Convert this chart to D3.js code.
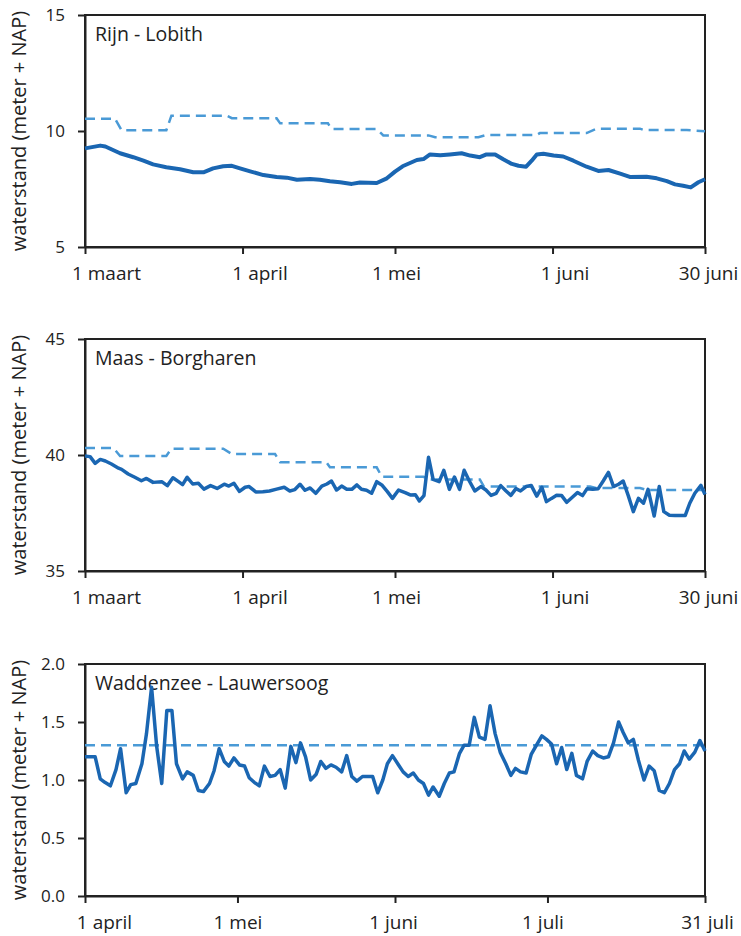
<!DOCTYPE html>
<html><head><meta charset="utf-8">
<script src="https://cdn.jsdelivr.net/npm/d3@7"></script>
<style>
body{margin:0;background:#fff;}
text{font-family:"Open Sans",Roboto,sans-serif;fill:#222;}
</style></head>
<body><svg id="c" width="741" height="936"></svg>
<script>
// ---------- DATA ----------
const panelTitles = ["Rijn - Lobith","Maas - Borgharen","Waddenzee - Lauwersoog"];
const yLabel = "waterstand (meter + NAP)";

const xTicks1 = [0,31,61,92,122];
const xTickLabels1 = ["1 maart","1 april","1 mei","1 juni","30 juni"];
const xTicks3 = [0,30,61,91,122];
const xTickLabels3 = ["1 april","1 mei","1 juni","1 juli","31 juli"];

const yDomainRijn = [5,15];  const yTicksRijn = [5,10,15];
const yDomainMaas = [35,45]; const yTicksMaas = [35,40,45];
const yDomainWad = [0,2];    const yTicksWad = [0,0.5,1,1.5,2];

// Rijn - Lobith (day index from 1 maart)
const rijnDays = [0,3,4,6.9,9.5,11.5,13.4,16,18.7,21.3,23.3,25.2,27.2,28.9,30.5,32.5,35.1,37.7,39.7,41.7,44.3,46.2,48.2,50.2,52.5,54.1,57.4,59.4,61,62.5,65.3,66.6,67.9,69.9,71.8,74.1,75.8,77.7,79,80.7,82.3,84,85.3,86.8,87.9,88.9,90.2,92.2,94.1,96.1,98.7,101,103,105.3,107.2,110.5,112.5,114.5,116.1,117.7,119.2,120.7,122];
const rijnLevel = [9.25,9.37,9.33,9.04,8.87,8.72,8.56,8.44,8.35,8.22,8.22,8.39,8.48,8.50,8.39,8.26,8.10,8.02,7.99,7.90,7.93,7.90,7.83,7.79,7.72,7.78,7.76,7.96,8.25,8.48,8.75,8.79,8.99,8.95,8.99,9.04,8.94,8.87,8.99,8.99,8.78,8.58,8.50,8.46,8.72,8.99,9.02,8.94,8.90,8.72,8.46,8.28,8.32,8.16,8.02,8.03,7.96,7.84,7.70,7.64,7.57,7.79,7.92];
const rijnNormDays = [0,5.9,7.2,16,17,27.9,28.9,37.7,38.4,47.8,48.5,57.4,58.7,67.6,68.9,77.4,79,88.9,89.5,98.7,100.7,109.2,110,118.4,122];
const rijnNorm = [10.53,10.53,10.03,10.03,10.66,10.66,10.55,10.55,10.33,10.33,10.09,10.09,9.81,9.81,9.73,9.73,9.83,9.83,9.91,9.91,10.10,10.10,10.04,10.04,9.99];

// Maas - Borgharen
const maasDays = [0,1,2,3,4,5.2,6.6,7.2,8.5,9.8,11.1,12.1,13.4,15.1,16.2,17.3,18.4,19.2,20.1,21.2,22.3,23.4,24.7,26,27.4,28.3,29.3,30.4,31.5,32.3,33.6,35,36.3,37.7,39.2,40.3,41.3,42.3,43.3,44.3,45.4,46.6,47.6,48.5,49.5,50.5,51.5,52.5,53.5,54.4,55.4,56.4,57.4,58.4,59.5,60.5,61.7,63,64,65,65.8,66.7,67.6,68.5,69.7,70.6,71.7,72.7,73.7,74.6,75.6,76.7,77.9,78.9,79.9,80.9,81.8,82.8,83.8,84.8,85.7,86.8,87.8,88.9,89.9,90.8,91.8,92.8,93.8,94.8,96,96.9,97.9,98.8,99.9,101,102,103,104,105,105.9,106.9,107.9,108.9,109.9,110.8,112,113,113.9,115,116.1,118.1,119,120,121.2,122];
const maasLevel = [39.96,39.93,39.64,39.81,39.74,39.61,39.43,39.38,39.18,39.04,38.89,38.99,38.82,38.85,38.68,39.02,38.85,38.72,39.04,38.75,38.78,38.53,38.68,38.56,38.74,38.66,38.78,38.43,38.61,38.64,38.41,38.42,38.45,38.53,38.61,38.45,38.51,38.74,38.48,38.58,38.35,38.66,38.75,38.88,38.49,38.66,38.52,38.52,38.71,38.52,38.48,38.35,38.85,38.71,38.42,38.13,38.49,38.38,38.28,38.29,38.02,38.25,39.90,38.95,38.85,39.34,38.52,39.05,38.52,39.34,38.89,38.45,38.64,38.49,38.26,38.35,38.68,38.46,38.26,38.55,38.45,38.64,38.69,38.23,38.61,37.99,38.13,38.26,38.25,37.96,38.20,38.38,38.25,38.55,38.52,38.55,38.89,39.25,38.64,38.74,38.88,38.25,37.56,38.13,37.92,38.52,37.37,38.64,37.56,37.40,37.39,37.39,37.92,38.35,38.69,38.30];
const maasNormDays = [0,5.6,6.9,16,17,27.2,28.9,37.4,38.4,47.5,48.2,57.4,58.4,66.6,67.9,77.7,78.5,99.4,100.5,109.2,110.5,122];
const maasNorm = [40.30,40.30,39.96,39.96,40.27,40.27,40.04,40.04,39.69,39.69,39.47,39.47,39.06,39.06,38.94,38.94,38.64,38.64,38.58,38.58,38.49,38.49];

// Waddenzee - Lauwersoog (day index from 1 april)
const wadDays = [0,2,3,3.9,5,6.1,7,8.1,9,10,11.2,12.1,13.1,14.1,15.1,16.1,17.1,18,19.2,20.1,21.3,22.3,23.3,24.5,25.4,26.4,27.4,28.3,29.3,30.4,31.4,32.3,33.3,34.3,35.3,36.4,37.4,38.4,39.4,40.5,41.5,42.4,43.4,44.4,45.5,46.4,47.4,48.4,49.4,50.5,51.5,52.5,53.5,54.6,56.6,57.6,58.6,59.5,60.5,61.7,62.6,63.6,64.6,65.6,66.6,67.6,68.5,69.7,70.7,71.7,72.6,73.7,74.6,75.6,76.6,77.6,78.7,79.7,80.7,81.7,82.8,83.8,84.7,85.7,86.8,87.8,88.7,89.9,90.8,91.8,92.8,93.8,94.8,95.8,96.7,97.9,98.8,99.9,100.9,102,103,104,105,105.9,106.9,107.9,108.9,110,111,112,113,114,115,116,117,117.9,118.9,120,121,122];
const wadLevel = [1.20,1.20,1.01,0.98,0.95,1.09,1.27,0.89,0.96,0.97,1.14,1.40,1.80,1.29,0.97,1.60,1.60,1.14,1.01,1.07,1.04,0.91,0.90,0.97,1.08,1.27,1.16,1.12,1.19,1.13,1.12,1.02,0.98,0.95,1.12,1.03,1.04,1.09,0.93,1.29,1.15,1.32,1.20,1.00,1.05,1.16,1.10,1.13,1.11,1.07,1.21,1.03,0.99,1.03,1.03,0.89,1.00,1.14,1.21,1.13,1.07,1.03,1.06,1.00,0.97,0.87,0.94,0.86,0.97,1.06,1.07,1.23,1.30,1.30,1.54,1.37,1.35,1.64,1.40,1.24,1.14,1.04,1.10,1.07,1.06,1.22,1.29,1.38,1.35,1.31,1.14,1.28,1.09,1.23,1.04,1.01,1.16,1.25,1.21,1.19,1.20,1.32,1.50,1.41,1.32,1.35,1.17,1.00,1.12,1.08,0.91,0.89,0.97,1.09,1.14,1.25,1.18,1.24,1.34,1.25];
const wadNormDays = [0,122];
const wadNorm = [1.3,1.3];

// ---------- DRAW ----------
const svg = d3.select("#c");
const left = 85, right = 705, ph = 232;
const tops = [15,339,664];
const solidColor = "#1a66b2", dashColor = "#4a9ad6";
// horizontal nudges of the date labels, as placed in the original layout
const labelShiftA = [21,17,1,12,3];
const labelShiftB = [19,0,-2,-5,2];

const panels = [
  {title:panelTitles[0], top:tops[0], yd:yDomainRijn, yt:yTicksRijn, yf:d3.format("d"), xt:xTicks1, xl:xTickLabels1, sh:labelShiftA,
   days:rijnDays, vals:rijnLevel, ndays:rijnNormDays, nvals:rijnNorm, sw:4},
  {title:panelTitles[1], top:tops[1], yd:yDomainMaas, yt:yTicksMaas, yf:d3.format("d"), xt:xTicks1, xl:xTickLabels1, sh:labelShiftA,
   days:maasDays, vals:maasLevel, ndays:maasNormDays, nvals:maasNorm, sw:3.5},
  {title:panelTitles[2], top:tops[2], yd:yDomainWad, yt:yTicksWad, yf:d3.format(".1f"), xt:xTicks3, xl:xTickLabels3, sh:labelShiftB,
   days:wadDays, vals:wadLevel, ndays:wadNormDays, nvals:wadNorm, sw:3.5}
];

panels.forEach(p => {
  const x = d3.scaleLinear().domain([0,122]).range([left,right]);
  const y = d3.scaleLinear().domain(p.yd).range([p.top+ph, p.top]);
  const g = svg.append("g");

  // frame
  g.append("rect").attr("x",left).attr("y",p.top).attr("width",right-left).attr("height",ph)
    .attr("fill","none").attr("stroke","#222").attr("stroke-width",2);

  // x axis
  const xa = g.append("g").attr("transform",`translate(0,${p.top+ph})`)
    .call(d3.axisBottom(x).tickValues(p.xt).tickSize(7).tickSizeOuter(0)
      .tickFormat((d,i)=>p.xl[i]));
  xa.select(".domain").attr("stroke","#222").attr("stroke-width",2);
  xa.selectAll(".tick line").attr("stroke","#222").attr("stroke-width",2);
  xa.selectAll(".tick text").attr("font-size",19).attr("y",33).attr("dy",0).attr("fill","#222")
    .attr("x",(d,i)=>p.sh[i])
    .attr("font-family","'Open Sans',Roboto,sans-serif");

  // y axis
  const ya = g.append("g").attr("transform",`translate(${left},0)`)
    .call(d3.axisLeft(y).tickValues(p.yt).tickSize(7).tickSizeOuter(0).tickFormat(p.yf));
  ya.select(".domain").attr("stroke","#222").attr("stroke-width",2);
  ya.selectAll(".tick line").attr("stroke","#222").attr("stroke-width",2);
  ya.selectAll(".tick text").attr("font-size",17).attr("x",-20).attr("fill","#222")
    .attr("font-family","'Open Sans',Roboto,sans-serif");

  // y label
  g.append("text").attr("transform",`translate(18,${p.top+ph/2}) rotate(-90)`)
    .attr("text-anchor","middle").attr("dominant-baseline","central").attr("font-size",20)
    .attr("font-family","'Liberation Sans',Arial,sans-serif")
    .text(yLabel);

  // title
  g.append("text").attr("x",left+10).attr("y",p.top+26)
    .attr("font-family","'Open Sans',sans-serif").attr("font-size",19.5)
    .text(p.title);

  // dashed norm line
  const nd = p.ndays.map((d,i)=>[d,p.nvals[i]]);
  g.append("path").datum(nd).attr("fill","none").attr("stroke",dashColor)
    .attr("stroke-width",2.5).attr("stroke-dasharray","10,6")
    .attr("d", d3.line().x(d=>x(d[0])).y(d=>y(d[1])));

  // solid measured line
  const sd = p.days.map((d,i)=>[d,p.vals[i]]);
  g.append("path").datum(sd).attr("fill","none").attr("stroke",solidColor)
    .attr("stroke-width",p.sw).attr("stroke-linejoin","round")
    .attr("d", d3.line().x(d=>x(d[0])).y(d=>y(d[1])));
});
</script></body></html>
